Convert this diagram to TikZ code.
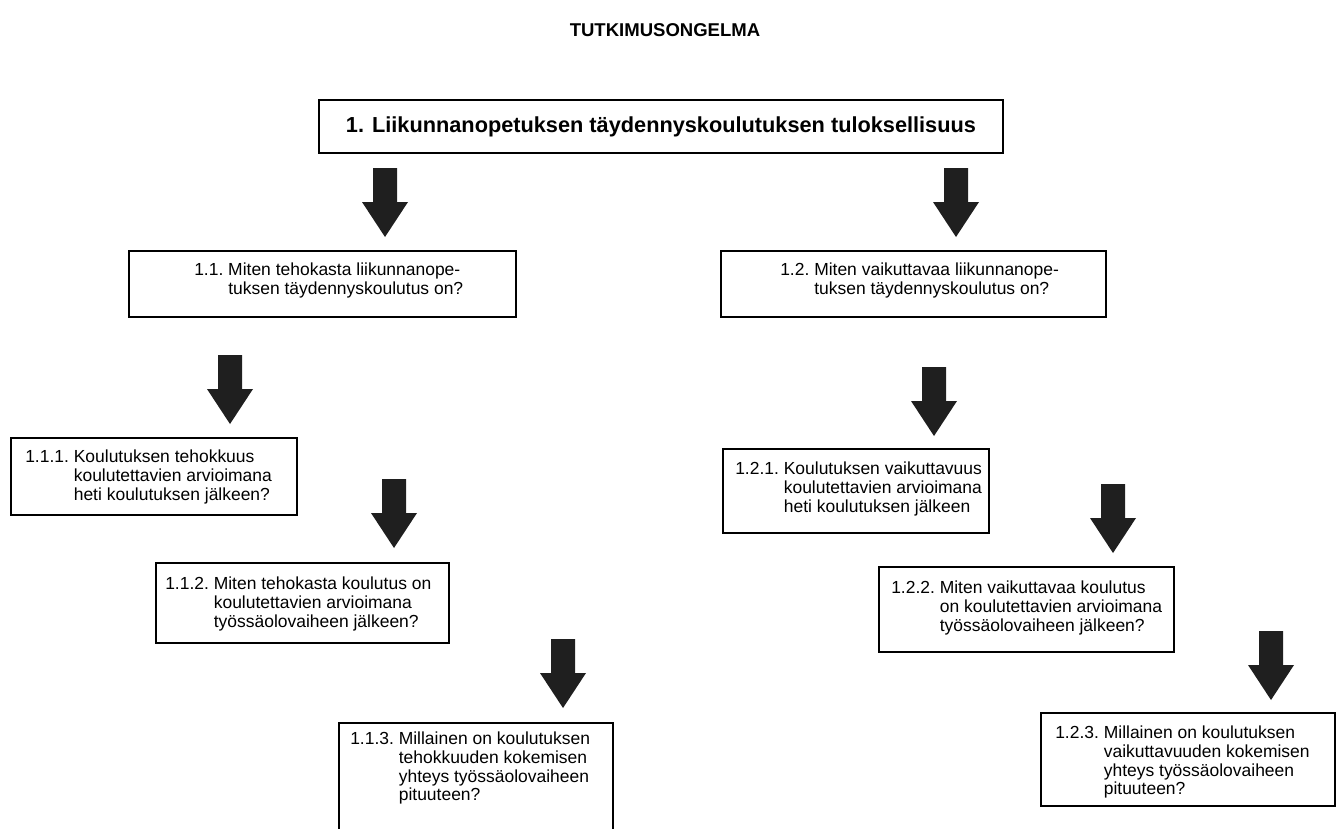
\documentclass[tikz,border=0pt]{standalone}
\usepackage{fontspec}
\setmainfont{Liberation Sans}
\newcommand{\bodyfont}{\fontsize{13.1pt}{14.1pt}\selectfont}
\begin{document}
\begin{tikzpicture}[x=0.75pt,y=-0.75pt,
  frame/.style={draw=black, line width=1.4pt, anchor=north west, inner sep=0pt},
  txt/.style={anchor=west, inner sep=0pt, font=\bodyfont, align=left},
  arrowfill/.style={fill=black!88},
  blockarrow/.pic={\fill[arrowfill] (-12,0) -- (12,0) -- (12,34) -- (23,34) -- (0,69) -- (-23,34) -- (-12,34) -- cycle;}
]
\useasboundingbox (0,0) rectangle (1341,828);
\clip (0,0) rectangle (1341,828);

% title
\node[font=\fontsize{13.9pt}{16pt}\selectfont\bfseries, inner sep=0pt] (title) at (665,30) {TUTKIMUSONGELMA};

% level 1
\node[frame, minimum width={684*0.75pt}, minimum height={53*0.75pt}] (b1) at (318,99) {};
\node[font=\fontsize{16.3pt}{18pt}\selectfont\bfseries, inner sep=0pt] (t1) at (b1.center) {1. Liikunnanopetuksen täydennyskoulutuksen tuloksellisuus};

% arrows from level 1
\pic (a1) at (385,168) {blockarrow};
\pic (a2) at (956,168) {blockarrow};

% level 2
\node[frame, minimum width={387*0.75pt}, minimum height={66*0.75pt}] (b11) at (128,250) {};
\node[txt] (t11) at (194,281) {\begin{tabular}{@{}l@{\ }l@{}}1.1.&Miten tehokasta liikunnanope-\\&tuksen täydennyskoulutus on?\end{tabular}};

\node[frame, minimum width={385*0.75pt}, minimum height={66*0.75pt}] (b12) at (720,250) {};
\node[txt] (t12) at (780,281) {\begin{tabular}{@{}l@{\ }l@{}}1.2.&Miten vaikuttavaa liikunnanope-\\&tuksen täydennyskoulutus on?\end{tabular}};

% left branch
\pic (a3) at (230,355) {blockarrow};
\node[frame, minimum width={286*0.75pt}, minimum height={77*0.75pt}] (b111) at (10,437) {};
\node[txt] (t111) at (25,478) {\begin{tabular}{@{}l@{\ }l@{}}1.1.1.&Koulutuksen tehokkuus\\&koulutettavien arvioimana\\&heti koulutuksen jälkeen?\end{tabular}};

\pic (a4) at (394,479) {blockarrow};
\node[frame, minimum width={293*0.75pt}, minimum height={80*0.75pt}] (b112) at (155,562) {};
\node[txt] (t112) at (165,605) {\begin{tabular}{@{}l@{\ }l@{}}1.1.2.&Miten tehokasta koulutus on\\&koulutettavien arvioimana\\&työssäolovaiheen jälkeen?\end{tabular}};

\pic (a5) at (563,639) {blockarrow};
\node[frame, minimum width={274*0.75pt}, minimum height={140*0.75pt}] (b113) at (338,722) {};
\node[txt] (t113) at (350,769) {\begin{tabular}{@{}l@{\ }l@{}}1.1.3.&Millainen on koulutuksen\\&tehokkuuden kokemisen\\&yhteys työssäolovaiheen\\&pituuteen?\end{tabular}};

% right branch
\pic (a6) at (934,367) {blockarrow};
\node[frame, minimum width={266*0.75pt}, minimum height={84*0.75pt}] (b121) at (722,448) {};
\node[txt] (t121) at (735,490) {\begin{tabular}{@{}l@{\ }l@{}}1.2.1.&Koulutuksen vaikuttavuus\\&koulutettavien arvioimana\\&heti koulutuksen jälkeen\end{tabular}};

\pic (a7) at (1113,484) {blockarrow};
\node[frame, minimum width={295*0.75pt}, minimum height={85*0.75pt}] (b122) at (878,566) {};
\node[txt] (t122) at (891,609) {\begin{tabular}{@{}l@{\ }l@{}}1.2.2.&Miten vaikuttavaa koulutus\\&on koulutettavien arvioimana\\&työssäolovaiheen jälkeen?\end{tabular}};

\pic (a8) at (1271,631) {blockarrow};
\node[frame, minimum width={294*0.75pt}, minimum height={93*0.75pt}] (b123) at (1040,712) {};
\node[txt] (t123) at (1055,763) {\begin{tabular}{@{}l@{\ }l@{}}1.2.3.&Millainen on koulutuksen\\&vaikuttavuuden kokemisen\\&yhteys työssäolovaiheen\\&pituuteen?\end{tabular}};
\end{tikzpicture}
\end{document}
